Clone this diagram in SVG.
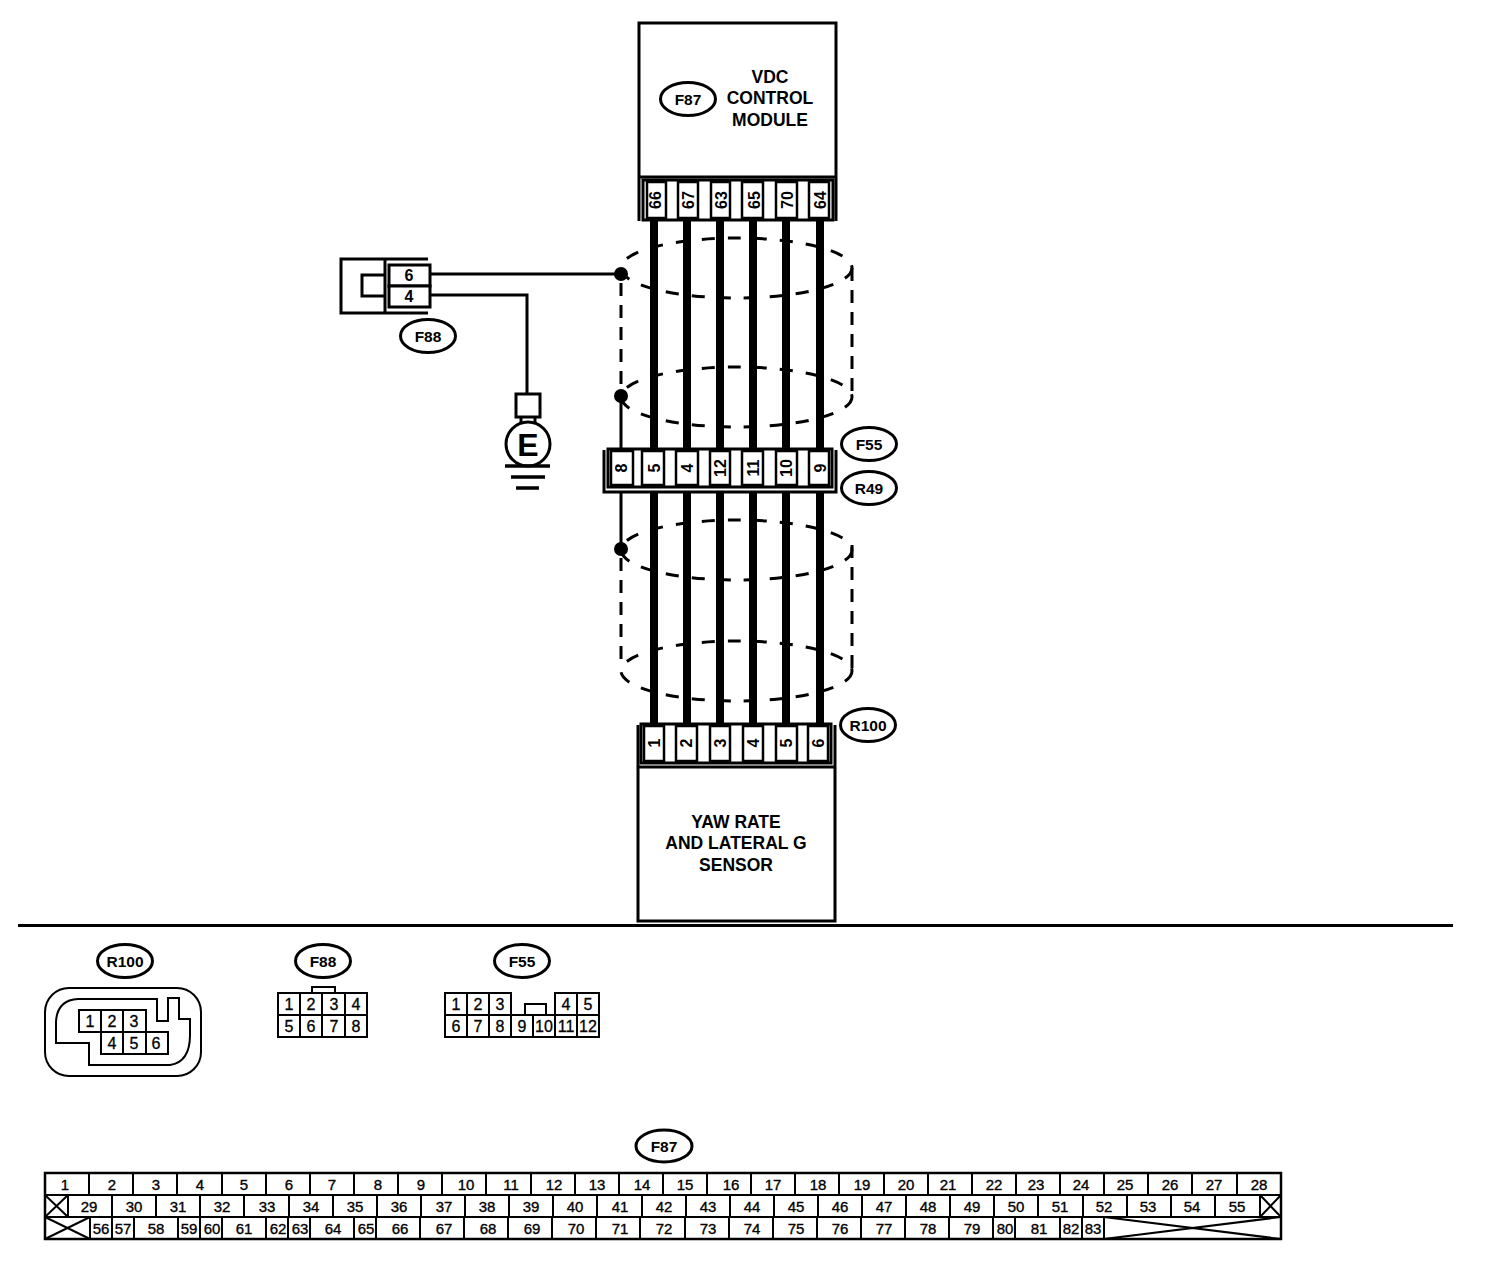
<svg xmlns="http://www.w3.org/2000/svg" width="1504" height="1272" viewBox="0 0 1504 1272">
<style>
text{font-family:"Liberation Sans",Arial,sans-serif;fill:#000;text-anchor:middle;dominant-baseline:central}
.l{font-size:17.500px;font-weight:700}
.a{font-size:15.500px;font-weight:700}
.p{font-size:16px;font-weight:700}
.c{font-size:16px;font-weight:400;stroke:#000;stroke-width:.3}
.t{font-size:15px;font-weight:400;stroke:#000;stroke-width:.35}
.b{fill:#fff;stroke:#000;stroke-width:3}
.n{fill:none;stroke:#000;stroke-width:3}
.m{fill:#fff;stroke:#000;stroke-width:2.500}
.o{fill:#fff;stroke:#000;stroke-width:3}
.w{stroke:#000;stroke-width:8;fill:none}
.s{fill:none;stroke:#000;stroke-width:3;stroke-dasharray:13 13}
.v{fill:none;stroke:#000;stroke-width:3;stroke-dasharray:13 9}
.g{stroke:#000;stroke-width:3.500}
.k{stroke:#000;stroke-width:2;fill:none}
</style>
<g id="connectors">
<path class="w" d="M654 220V450M687 220V450M720 220V450M753 220V450M786 220V450M820 220V450"/>
<path class="w" d="M654 492V724M687 492V724M720 492V724M753 492V724M786 492V724M820 492V724"/>
<path class="n" d="M430 274H621M430 295H527V394M621 396V450M621 492V549"/>
<circle cx="621" cy="274" r="7"/><circle cx="621" cy="396" r="7"/><circle cx="621" cy="549" r="7"/>
<g id="shield">
<ellipse class="s" cx="736.500" cy="268" rx="115.500" ry="30"/>
<ellipse class="s" cx="736.500" cy="397" rx="115.500" ry="30"/>
<path class="v" d="M621 283V390M852 268V395"/>
<ellipse class="s" cx="736.500" cy="550" rx="115.500" ry="30"/>
<ellipse class="s" cx="736.500" cy="671" rx="115.500" ry="30"/>
<path class="v" d="M621 558V668M852 545V670"/>
</g>
</g>
<g id="vdc-module">
<path class="b" d="M639 221V23H836V221"/>
<path class="n" d="M639 177H836"/>
<rect class="b" x="643" y="180" width="190" height="40"/>
<g class="m"><rect x="647" y="182" width="19" height="36"/><rect x="678" y="182" width="20" height="36"/><rect x="711" y="182" width="19" height="36"/><rect x="742" y="182" width="21" height="36"/><rect x="776" y="182" width="21" height="36"/><rect x="809" y="182" width="20" height="36"/></g>
<text class="p" transform="translate(655.500 200) rotate(-90)">66</text>
<text class="p" transform="translate(688.500 200) rotate(-90)">67</text>
<text class="p" transform="translate(721 200) rotate(-90)">63</text>
<text class="p" transform="translate(754 200) rotate(-90)">65</text>
<text class="p" transform="translate(787 200) rotate(-90)">70</text>
<text class="p" transform="translate(820 200) rotate(-90)">64</text>
<text class="l" x="770" y="77">VDC</text>
<text class="l" x="770" y="98">CONTROL</text>
<text class="l" x="770" y="120">MODULE</text>
</g>
<g id="f87-tag"><ellipse class="o" cx="688" cy="99" rx="27.500" ry="16.500"/><text class="a" x="688" y="99">F87</text></g>
<g id="f88-connector">
<path class="n" d="M428 259H341V313H428"/>
<path class="n" d="M385 275H362V296H385M385 259V313"/>
<rect class="b" x="389" y="265" width="41" height="21"/>
<rect class="b" x="389" y="286" width="41" height="21"/>
<text class="p" x="409" y="275.500">6</text>
<text class="p" x="409" y="296.500">4</text>
</g>
<g id="f88-tag"><ellipse class="o" cx="428" cy="336" rx="27.500" ry="16.500"/><text class="a" x="428" y="336">F88</text></g>
<g id="ground">
<rect class="b" x="516" y="394" width="24" height="23"/>
<path class="n" d="M521 417V423M535 417V423"/>
<circle class="o" cx="528" cy="444" r="22"/>
<text x="528" y="445" style="font-size:32px;font-weight:700">E</text>
<path class="g" d="M505 466H550M511 477H545M516 488H539"/>
</g>
<g id="f55-r49-connector">
<path class="n" d="M604 450V492H836V450"/>
<rect class="b" x="608" y="449" width="224" height="38"/>
<g class="m"><rect x="611" y="451" width="22" height="34"/><rect x="642" y="451" width="22" height="34"/><rect x="676" y="451" width="22" height="34"/><rect x="710" y="451" width="20" height="34"/><rect x="742" y="451" width="21" height="34"/><rect x="776" y="451" width="21" height="34"/><rect x="809" y="451" width="20" height="34"/></g>
<text class="p" transform="translate(621 468) rotate(-90)">8</text>
<text class="p" transform="translate(654 468) rotate(-90)">5</text>
<text class="p" transform="translate(687 468) rotate(-90)">4</text>
<text class="p" transform="translate(720 468) rotate(-90)">12</text>
<text class="p" transform="translate(753 468) rotate(-90)">11</text>
<text class="p" transform="translate(786 468) rotate(-90)">10</text>
<text class="p" transform="translate(820 468) rotate(-90)">9</text>
</g>
<g id="f55-tag"><ellipse class="o" cx="869" cy="444" rx="27.500" ry="16.500"/><text class="a" x="869" y="444">F55</text></g>
<g id="r49-tag"><ellipse class="o" cx="869" cy="488" rx="27.500" ry="16.500"/><text class="a" x="869" y="488">R49</text></g>
<g id="yaw-sensor">
<path class="b" d="M638 725V921H835V725"/>
<path class="n" d="M638 767H835"/>
<rect class="b" x="641" y="724" width="190" height="39"/>
<g class="m"><rect x="644" y="726" width="20" height="35"/><rect x="676" y="726" width="21" height="35"/><rect x="710" y="726" width="20" height="35"/><rect x="743" y="726" width="20" height="35"/><rect x="776" y="726" width="21" height="35"/><rect x="808" y="726" width="20" height="35"/></g>
<text class="p" transform="translate(654 743) rotate(-90)">1</text>
<text class="p" transform="translate(686.500 743) rotate(-90)">2</text>
<text class="p" transform="translate(720 743) rotate(-90)">3</text>
<text class="p" transform="translate(753 743) rotate(-90)">4</text>
<text class="p" transform="translate(786.500 743) rotate(-90)">5</text>
<text class="p" transform="translate(818 743) rotate(-90)">6</text>
<text class="l" x="736" y="822">YAW RATE</text>
<text class="l" x="736" y="843">AND LATERAL G</text>
<text class="l" x="736" y="865">SENSOR</text>
</g>
<g id="r100-tag"><ellipse class="o" cx="868" cy="725" rx="27.500" ry="16.500"/><text class="a" x="868" y="725">R100</text></g>
<path id="divider" d="M18 925.500H1453" stroke="#000" stroke-width="3"/>
<g id="r100-view">
<ellipse class="o" cx="125" cy="961" rx="27.500" ry="16.500"/><text class="a" x="125" y="961">R100</text>
<rect x="45" y="988" width="156" height="88" rx="24" fill="none" stroke="#000" stroke-width="2"/>
<path class="k" d="M157 999H78Q57 1000 56 1022V1043H89V1065H170Q190 1062 190 1035V1019H179V998H168V1021H157Z"/>
<path class="k" d="M79 1010H146V1032H168V1054H101V1032H79Z M101 1010V1054M123 1010V1054M146 1032V1054M101 1032H146"/>
<text class="c" x="90" y="1021">1</text><text class="c" x="112" y="1021">2</text><text class="c" x="134" y="1021">3</text>
<text class="c" x="112" y="1043">4</text><text class="c" x="134" y="1043">5</text><text class="c" x="156" y="1043">6</text>
</g>
<g id="f88-view">
<ellipse class="o" cx="323" cy="961" rx="27.500" ry="16.500"/><text class="a" x="323" y="961">F88</text>
<path class="k" d="M278 993H367V1037H278ZM278 1015H367M300 993V1037M322 993V1037M345 993V1037M312 993V987H335V993"/>
<text class="c" x="289" y="1004">1</text><text class="c" x="311" y="1004">2</text><text class="c" x="334" y="1004">3</text><text class="c" x="356" y="1004">4</text>
<text class="c" x="289" y="1026">5</text><text class="c" x="311" y="1026">6</text><text class="c" x="334" y="1026">7</text><text class="c" x="356" y="1026">8</text>
</g>
<g id="f55-view">
<ellipse class="o" cx="522" cy="961" rx="27.500" ry="16.500"/><text class="a" x="522" y="961">F55</text>
<path class="k" d="M445 993H511V1015H555V993H599V1037H445ZM445 1015H511M555 1015H599M467 993V1037M489 993V1037M511 1015V1037M533 1015V1037M555 1015V1037M577 993V1037M525 1015V1004H546V1015"/>
<text class="c" x="456" y="1004">1</text><text class="c" x="478" y="1004">2</text><text class="c" x="500" y="1004">3</text><text class="c" x="566" y="1004">4</text><text class="c" x="588" y="1004">5</text>
<text class="c" x="456" y="1026">6</text><text class="c" x="478" y="1026">7</text><text class="c" x="500" y="1026">8</text><text class="c" x="522" y="1026">9</text><text class="c" x="544" y="1026">10</text><text class="c" x="566" y="1026">11</text><text class="c" x="588" y="1026">12</text>
</g>
<g id="f87-view">
<ellipse class="o" cx="664" cy="1146" rx="28" ry="16"/><text class="a" x="664" y="1146">F87</text>
<rect x="45" y="1173" width="1236" height="66" fill="none" stroke="#000" stroke-width="2.500"/>
<path class="k" d="M45 1195H1281M45 1217H1281"/>
<path class="k" d="M89 1173V1195M133 1173V1195M177 1173V1195M222 1173V1195M266 1173V1195M310 1173V1195M354 1173V1195M398 1173V1195M442 1173V1195M486 1173V1195M531 1173V1195M575 1173V1195M619 1173V1195M663 1173V1195M707 1173V1195M751 1173V1195M795 1173V1195M839 1173V1195M884 1173V1195M928 1173V1195M972 1173V1195M1016 1173V1195M1060 1173V1195M1104 1173V1195M1148 1173V1195M1192 1173V1195M1237 1173V1195"/>
<path class="k" d="M68 1195V1217M112 1195V1217M156 1195V1217M200 1195V1217M244 1195V1217M289 1195V1217M333 1195V1217M377 1195V1217M421 1195V1217M465 1195V1217M509 1195V1217M553 1195V1217M597 1195V1217M642 1195V1217M686 1195V1217M730 1195V1217M774 1195V1217M818 1195V1217M862 1195V1217M906 1195V1217M950 1195V1217M994 1195V1217M1038 1195V1217M1083 1195V1217M1127 1195V1217M1171 1195V1217M1215 1195V1217M1260 1195V1217"/>
<path class="k" d="M90 1217V1239M112 1217V1239M134 1217V1239M178 1217V1239M200 1217V1239M222 1217V1239M266 1217V1239M288 1217V1239M310 1217V1239M354 1217V1239M376 1217V1239M420 1217V1239M464 1217V1239M508 1217V1239M552 1217V1239M596 1217V1239M640 1217V1239M685 1217V1239M729 1217V1239M773 1217V1239M817 1217V1239M861 1217V1239M905 1217V1239M949 1217V1239M993 1217V1239M1015 1217V1239M1060 1217V1239M1082 1217V1239M1104 1217V1239"/>
<path class="k" d="M45 1195L68 1217M68 1195L45 1217M1260 1195L1281 1217M1281 1195L1260 1217M45 1217L90 1239M90 1217L45 1239M1104 1217L1281 1239M1281 1217L1104 1239"/>
<g class="t">
<text x="65" y="1184">1</text><text x="112" y="1184">2</text><text x="156" y="1184">3</text><text x="200" y="1184">4</text><text x="244" y="1184">5</text><text x="289" y="1184">6</text><text x="332" y="1184">7</text><text x="378" y="1184">8</text><text x="421" y="1184">9</text><text x="466" y="1184">10</text><text x="511" y="1184">11</text><text x="554" y="1184">12</text><text x="597" y="1184">13</text><text x="642" y="1184">14</text><text x="685" y="1184">15</text><text x="731" y="1184">16</text><text x="773" y="1184">17</text><text x="818" y="1184">18</text><text x="862" y="1184">19</text><text x="906" y="1184">20</text><text x="948" y="1184">21</text><text x="994" y="1184">22</text><text x="1036" y="1184">23</text><text x="1081" y="1184">24</text><text x="1125" y="1184">25</text><text x="1170" y="1184">26</text><text x="1214" y="1184">27</text><text x="1259" y="1184">28</text>
<text x="89" y="1206">29</text><text x="134" y="1206">30</text><text x="178" y="1206">31</text><text x="222" y="1206">32</text><text x="267" y="1206">33</text><text x="311" y="1206">34</text><text x="355" y="1206">35</text><text x="399" y="1206">36</text><text x="444" y="1206">37</text><text x="487" y="1206">38</text><text x="531" y="1206">39</text><text x="575" y="1206">40</text><text x="620" y="1206">41</text><text x="664" y="1206">42</text><text x="708" y="1206">43</text><text x="752" y="1206">44</text><text x="796" y="1206">45</text><text x="840" y="1206">46</text><text x="884" y="1206">47</text><text x="928" y="1206">48</text><text x="972" y="1206">49</text><text x="1016" y="1206">50</text><text x="1060" y="1206">51</text><text x="1104" y="1206">52</text><text x="1148" y="1206">53</text><text x="1192" y="1206">54</text><text x="1237" y="1206">55</text>
<text x="101" y="1228">56</text><text x="123" y="1228">57</text><text x="156" y="1228">58</text><text x="189" y="1228">59</text><text x="212" y="1228">60</text><text x="244" y="1228">61</text><text x="278" y="1228">62</text><text x="300" y="1228">63</text><text x="333" y="1228">64</text><text x="366" y="1228">65</text><text x="400" y="1228">66</text><text x="444" y="1228">67</text><text x="488" y="1228">68</text><text x="532" y="1228">69</text><text x="576" y="1228">70</text><text x="620" y="1228">71</text><text x="664" y="1228">72</text><text x="708" y="1228">73</text><text x="752" y="1228">74</text><text x="796" y="1228">75</text><text x="840" y="1228">76</text><text x="884" y="1228">77</text><text x="928" y="1228">78</text><text x="972" y="1228">79</text><text x="1005" y="1228">80</text><text x="1039" y="1228">81</text><text x="1071" y="1228">82</text><text x="1093" y="1228">83</text>
</g>
</g>
</svg>
